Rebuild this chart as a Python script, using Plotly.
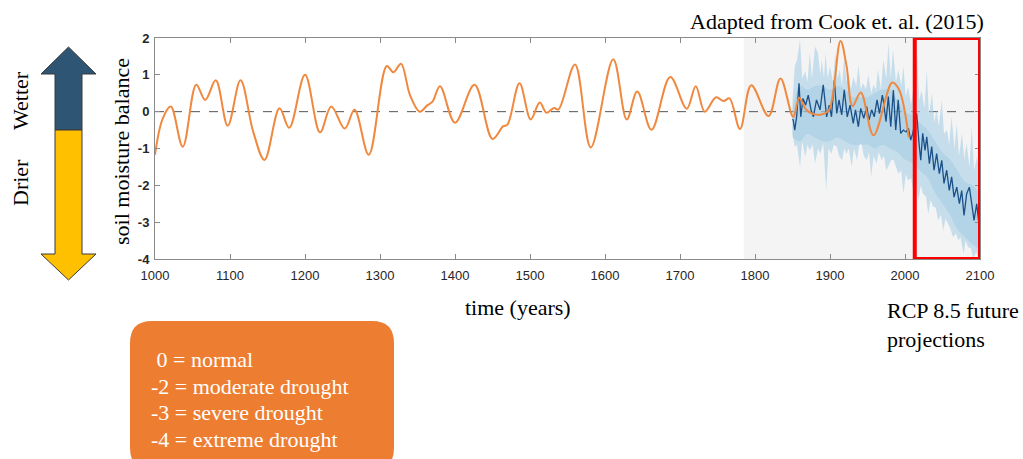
import plotly.graph_objects as go

# ---------------- data ----------------
recon_years = [1000, 1010, 1021, 1037, 1055, 1067, 1081, 1097, 1114, 1131, 1146, 1166, 1179, 1200,
               1220, 1235, 1253, 1266, 1285, 1309, 1318, 1328, 1340, 1353, 1363, 1370, 1380, 1400,
               1426, 1450, 1464, 1470, 1486, 1501, 1513, 1522, 1532, 1538, 1560, 1581, 1611, 1629,
               1643, 1662, 1687, 1709, 1721, 1733, 1748, 1758, 1766, 1780, 1795, 1818, 1834, 1851,
               1859, 1868, 1877, 1890, 1899, 1914, 1922, 1930, 1941, 1958, 1983, 1992, 2005]
recon_vals = [-1.17, -0.2, 0.14, -0.95, 0.73, 0.32, 0.85, -0.38, 0.85, -0.55, -1.31, 0.09, -0.44, 1.0,
              -0.56, 0.14, -0.46, 0.05, -1.17, 1.24, 1.07, 1.3, 0.45, 0.0, 0.17, 0.27, 0.69, -0.3,
              0.73, -0.74, -0.4, -0.35, 0.77, -0.21, 0.25, -0.03, 0.1, 0.06, 1.28, -0.97, 1.42, -0.21,
              0.55, -0.49, 0.94, 0.08, 0.69, 0.0, 0.39, 0.29, 0.36, -0.47, 0.72, -0.12, 0.9, -0.14,
              0.38, 0.06, -0.06, -0.07, 0.06, 1.92, 1.25, 0.15, 0.52, -0.64, 0.79, 0.6, -0.7]

model_years = [1850, 1851, 1853, 1855.5, 1858.7, 1861, 1864, 1867.5, 1871, 1874.7, 1877.8, 1882, 1886.7,
               1891, 1895.5, 1899, 1902, 1905.8, 1909, 1912, 1915.6, 1919, 1923, 1926.7, 1931, 1934,
               1937.8, 1941, 1945, 1949, 1952, 1955.5, 1959, 1962.7, 1966, 1969.8, 1971, 1974.7, 1977.8,
               1981, 1984.5, 1987.6, 1991, 1994.2, 1997.8, 2001.4, 2004.5, 2007.6, 2010.3, 2013, 2015.6,
               2018.7, 2021, 2023.6, 2026.7, 2029, 2032.5, 2035.6, 2038.7, 2042.2, 2045.8, 2049, 2052,
               2055.6, 2059, 2062.2, 2065.4, 2069, 2072.5, 2075.6, 2078.7, 2082.2, 2085.8, 2089, 2092,
               2095.6, 2098, 2100]
model_mean = [-0.2, -0.23, -0.5, -0.14, 0.77, -0.14, 0.36, 0.18, 0.45, 0.05, -0.14, 0.32, 0.05,
              0.73, -0.14, 0.18, -0.14, 0.86, -0.05, 0.32, -0.09, 0.59, -0.14, 0.18, -0.32, 0.05,
              -0.41, 0.09, -0.18, 0.14, -0.23, 0.05, -0.14, 0.32, -0.05, 0.45, 0.32, -0.27, 0.41,
              -0.41, 0.59, -0.5, 0.32, -0.59, -0.5, -0.55, -0.45, -0.77, -0.59, -0.3, -0.05,
              -0.86, -1.32, -0.59, -1.05, -0.68, -1.41, -0.95, -1.59, -1.14, -1.68, -1.32, -1.95,
              -1.59, -2.14, -1.77, -2.32, -2.05, -2.5, -2.14, -2.82, -2.23, -2.05, -2.5, -2.95,
              -2.5, -2.95, -2.82]

outer_up_years = [1850, 1853, 1856, 1860, 1863, 1867, 1870, 1873, 1876, 1880, 1884, 1887, 1889, 1892,
                  1894, 1897, 1900, 1904, 1907, 1910, 1913, 1916, 1919, 1922, 1924, 1928, 1931, 1935,
                  1938, 1941, 1944, 1948, 1951, 1955, 1958, 1961, 1964, 1968, 1971, 1975, 1978, 1981,
                  1984, 1988, 1991, 1995, 1998, 2001, 2004, 2008, 2011, 2014, 2016, 2019, 2022, 2026,
                  2029, 2032, 2036, 2039, 2042, 2045, 2049, 2052, 2056, 2059, 2062, 2066, 2069, 2072,
                  2076, 2079, 2082, 2086, 2089, 2092, 2096, 2100]
outer_up = [0.3, 1.23, 1.4, 1.95, 0.9, 1.1, 0.8, 1.6, 0.9, 1.77, 1.59, 1.0, 1.41, 0.9,
            1.59, 0.9, 1.23, 0.8, 1.59, 0.9, 1.14, 0.7, 1.5, 0.8, 1.05, 0.6, 0.95, 0.7,
            1.27, 0.6, 0.77, 0.6, 1.0, 0.5, 0.73, 0.6, 1.14, 0.6, 1.41, 0.9, 1.86, 0.9,
            1.68, 0.8, 1.14, 0.7, 1.23, 0.4, 0.68, 0.2, 0.59, 0.9, 1.59, 0.3, 0.59, 0.1,
            1.14, -0.1, 0.5, -0.3, 0.05, -0.4, 0.32, -0.6, -0.5, -0.9, -0.14, -1.0, -0.32, -1.2,
            -0.59, -1.3, -0.86, -1.5, -0.41, -1.6, -1.23, -1.68]

outer_lo_years = [1850, 1853, 1856, 1860, 1863, 1867, 1870, 1873, 1877, 1880, 1884, 1887, 1891, 1895,
                  1898, 1902, 1905, 1909, 1912, 1916, 1919, 1922, 1925, 1929, 1932, 1936, 1939, 1942,
                  1945, 1949, 1952, 1955, 1958, 1962, 1965, 1969, 1972, 1975, 1978, 1982, 1985, 1988,
                  1991, 1995, 1998, 2001, 2004, 2008, 2011, 2014, 2018, 2021, 2024, 2028, 2031, 2034,
                  2038, 2041, 2044, 2048, 2051, 2054, 2058, 2061, 2064, 2068, 2071, 2074, 2078, 2081,
                  2084, 2088, 2091, 2095, 2098, 2100]
outer_lo = [-0.6, -0.95, -0.9, -1.5, -0.8, -1.23, -0.9, -1.05, -0.9, -1.41, -1.0, -1.14, -0.86, -2.14,
            -1.0, -1.14, -0.9, -0.95, -1.2, -1.32, -1.0, -1.14, -1.0, -1.5, -1.0, -1.32, -0.9, -0.86,
            -1.2, -1.32, -1.1, -1.77, -1.2, -1.41, -1.1, -1.32, -1.2, -1.6, -1.5, -1.3, -1.32, -1.5,
            -1.68, -1.6, -2.23, -1.7, -1.86, -1.8, -2.14, -1.9, -2.41, -2.0, -2.23, -2.3, -2.77, -2.4,
            -2.59, -2.6, -2.95, -2.8, -3.23, -2.9, -3.05, -3.2, -3.41, -3.3, -3.5, -3.4, -3.86, -3.5,
            -3.68, -3.7, -4.0, -3.8, -4.0, -3.95]

inner_years = [1850, 1860, 1870, 1880, 1890, 1900, 1910, 1920, 1930, 1940, 1950, 1960, 1970,
               1980, 1990, 2000, 2010, 2020, 2030, 2040, 2050, 2060, 2070, 2080, 2090, 2100]
inner_up = [0.1, 0.7, 0.6, 0.7, 0.7, 0.6, 0.7, 0.6, 0.4, 0.4, 0.4, 0.5, 0.6,
            0.6, 0.3, 0.0, -0.1, -0.3, -0.5, -0.8, -1.1, -1.3, -1.6, -1.9, -2.0, -2.3]
inner_lo = [-0.7, -0.8, -0.6, -0.7, -0.8, -0.8, -0.7, -0.8, -0.9, -0.9, -0.9, -1.0, -0.9,
            -1.0, -1.1, -1.3, -1.4, -1.6, -1.8, -2.2, -2.5, -2.8, -3.2, -3.4, -3.6, -3.7]

x_ticks = list(range(1000, 2101, 100))
y_ticks = [-4, -3, -2, -1, 0, 1, 2]
y_tick_text = ["-4", "-3", "-2", "-1", "0", "1", "2"]

legend_lines = ["&nbsp;0 = normal", "-2 = moderate drought", "-3 = severe drought", "-4 = extreme drought"]

# ---------------- layout helpers ----------------
W, H = 1023, 459
L, R, T, B = 155, 43, 38, 200
PW, PH = W - L - R, H - T - B


def X(px):
    return (px - L) / PW


def Y(py):
    return (H - B - py) / PH


SERIF = "Liberation Serif, Times New Roman, serif"
SANS = "Liberation Sans, Arial, sans-serif"

fig = go.Figure()

# outer spiky band
fig.add_trace(go.Scatter(
    x=outer_up_years + outer_lo_years[::-1], y=outer_up + outer_lo[::-1],
    fill="toself", fillcolor="rgba(166,206,229,0.6)", line=dict(width=0),
    mode="lines", hoverinfo="skip"))
# inner band
fig.add_trace(go.Scatter(
    x=inner_years + inner_years[::-1], y=inner_up + inner_lo[::-1],
    fill="toself", fillcolor="rgba(140,190,222,0.32)", line=dict(width=0, shape="spline"),
    mode="lines", hoverinfo="skip"))
# model mean
fig.add_trace(go.Scatter(x=model_years, y=model_mean, mode="lines",
                         line=dict(color="#1b5088", width=1.3)))
# reconstruction
fig.add_trace(go.Scatter(x=recon_years, y=recon_vals, mode="lines",
                         line=dict(color="#f0883e", width=2, shape="spline", smoothing=1.0)))

shapes = [
    dict(type="rect", xref="x", yref="y", x0=1785, x1=2100, y0=-4, y1=2,
         fillcolor="#f4f4f4", line=dict(width=0), layer="below"),
    dict(type="line", xref="x", yref="y", x0=1000, x1=2100, y0=0, y1=0,
         line=dict(color="#555555", width=1, dash="dash"), layer="below"),
    dict(type="rect", xref="x", yref="y", x0=2013, x1=2100, y0=-4, y1=2,
         line=dict(color="#ff0000", width=4), fillcolor="rgba(0,0,0,0)", layer="above"),
]


def poly(points):
    s = "M " + " L ".join(f"{X(a):.5f},{Y(b):.5f}" for a, b in points) + " Z"
    return s


# double arrow
top_pts = [(68.5, 47), (96, 74), (82, 74), (82, 130), (55, 130), (55, 74), (41, 74)]
bot_pts = [(55, 130), (82, 130), (82, 254), (96, 254), (68.5, 280), (41, 254), (55, 254)]
shapes.append(dict(type="path", xref="paper", yref="paper", path=poly(top_pts),
                   fillcolor="#2e5573", line=dict(color="#3a3a3a", width=1), layer="above"))
shapes.append(dict(type="path", xref="paper", yref="paper", path=poly(bot_pts),
                   fillcolor="#ffc000", line=dict(color="#3a3a3a", width=1), layer="above"))

# rounded orange box
bx0, bx1, by0, by1, r = 130, 394, 321, 470, 22
box_path = (f"M {X(bx0 + r)},{Y(by0)} L {X(bx1 - r)},{Y(by0)} "
            f"Q {X(bx1)},{Y(by0)} {X(bx1)},{Y(by0 + r)} "
            f"L {X(bx1)},{Y(by1 - r)} Q {X(bx1)},{Y(by1)} {X(bx1 - r)},{Y(by1)} "
            f"L {X(bx0 + r)},{Y(by1)} Q {X(bx0)},{Y(by1)} {X(bx0)},{Y(by1 - r)} "
            f"L {X(bx0)},{Y(by0 + r)} Q {X(bx0)},{Y(by0)} {X(bx0 + r)},{Y(by0)} Z")
shapes.append(dict(type="path", xref="paper", yref="paper", path=box_path,
                   fillcolor="#ed7d31", line=dict(width=0), layer="above"))

annotations = [
    dict(text="Adapted from Cook et. al. (2015)", x=X(837), y=Y(21), xanchor="center", yanchor="middle",
         font=dict(family=SERIF, size=22, color="black")),
    dict(text="time (years)", x=X(518), y=Y(307), xanchor="center", yanchor="middle",
         font=dict(family=SERIF, size=22, color="black")),
    dict(text="RCP 8.5 future<br>projections", x=X(885), y=Y(325), xanchor="left", yanchor="middle",
         align="left", font=dict(family=SERIF, size=22, color="black")),
    dict(text="soil moisture balance", x=X(121), y=Y(152), xanchor="center", yanchor="middle",
         textangle=-90, font=dict(family=SERIF, size=22, color="black")),
    dict(text="Wetter", x=X(20), y=Y(101), xanchor="center", yanchor="middle",
         textangle=-90, font=dict(family=SERIF, size=22, color="black")),
    dict(text="Drier", x=X(20), y=Y(183), xanchor="center", yanchor="middle",
         textangle=-90, font=dict(family=SERIF, size=22, color="black")),
]
for i, (line, yy) in enumerate(zip(legend_lines, [359, 386, 412, 439])):
    annotations.append(dict(text=line, x=X(149), y=Y(yy), xanchor="left", yanchor="middle",
                            font=dict(family=SERIF, size=22, color="white")))
for a in annotations:
    a.update(xref="paper", yref="paper", showarrow=False)

fig.update_layout(
    width=W, height=H, autosize=False,
    margin=dict(l=L, r=R, t=T, b=B, pad=0),
    paper_bgcolor="white", plot_bgcolor="white",
    showlegend=False,
    shapes=shapes, annotations=annotations,
    xaxis=dict(range=[1000, 2100], tickvals=x_ticks, ticktext=[str(v) for v in x_ticks],
               showgrid=False, zeroline=False, showline=True, linecolor="#8a8a8a", linewidth=1,
               mirror="ticks", ticks="inside", ticklen=5, tickcolor="#8a8a8a",
               ticklabelstandoff=4,
               tickfont=dict(family=SANS, size=13, color="#262626")),
    yaxis=dict(range=[-4, 2], tickvals=y_ticks, ticktext=y_tick_text,
               showgrid=False, zeroline=False, showline=True, linecolor="#8a8a8a", linewidth=1,
               mirror="ticks", ticks="inside", ticklen=5, tickcolor="#8a8a8a",
               ticklabelstandoff=2,
               tickfont=dict(family=SANS, size=13, color="#262626", weight="bold")),
)

fig.write_html("out.html", config={"displayModeBar": False},
               post_script="document.body.style.margin='0';document.body.style.overflow='hidden';")
